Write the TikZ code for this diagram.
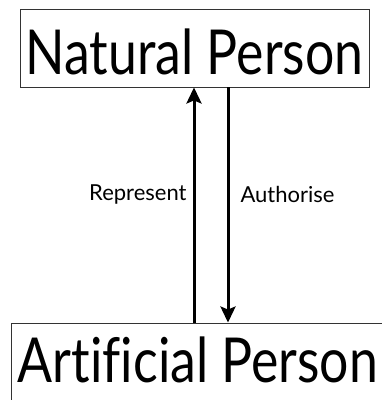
\documentclass[tikz,border=0pt]{standalone}
\usepackage{fontspec}
\setmainfont[Ligatures=NoCommon]{Lato}
\newfontfamily\bigfont[FakeStretch=0.835,Ligatures=NoCommon]{Lato}
\usetikzlibrary{arrows.meta}
\begin{document}
\begin{tikzpicture}[x=1pt,y=1pt,
  box/.style={draw=black!80, line width=0.9pt, rectangle, inner sep=0pt,
    font=\bigfont\fontsize{62}{62}\selectfont},
  arr/.style={line width=3pt, -{Stealth[length=16pt,width=15pt,inset=3pt]}},
  lbl/.style={font=\fontsize{22}{22}\selectfont, inner sep=0pt}]
\useasboundingbox (0,0) rectangle (382,400);
\clip (0,0) rectangle (382,400);
\node[box, minimum width=349pt, minimum height=78pt, text height=54pt, text depth=0pt] (np) at (194.5,352) {Natural Person};
\node[box, minimum width=374pt, minimum height=85pt, text height=45pt, text depth=10pt] (ap) at (198,34.5) {Artificial Person};
\coordinate (xr) at (194,0);
\coordinate (xa) at (228,0);
\draw[arr] (ap.north -| xr) -- node[lbl, pos=0.545, anchor=east, xshift=-6pt] {Represent} (np.south -| xr);
\draw[arr] (np.south -| xa) -- node[lbl, pos=0.455, anchor=west, xshift=11pt] {Authorise} (ap.north -| xa);
\end{tikzpicture}
\end{document}
